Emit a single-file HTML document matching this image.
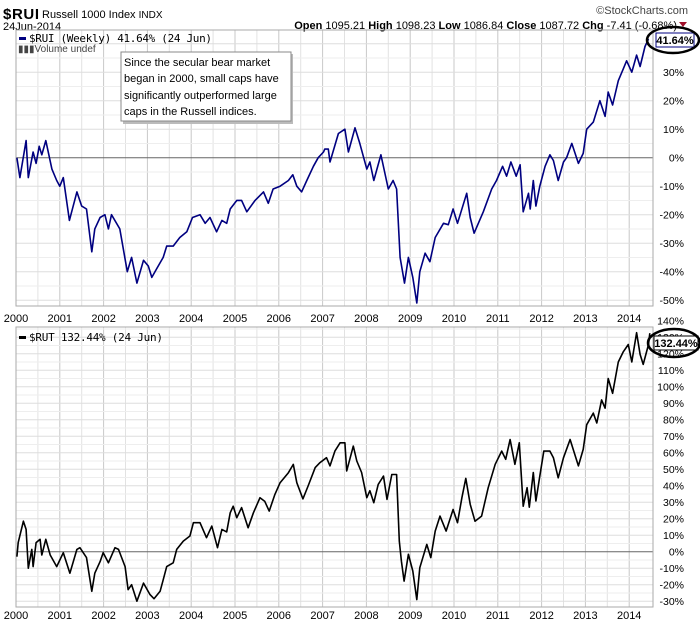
<!DOCTYPE html>
<html><head><meta charset="utf-8"><style>
html,body{margin:0;padding:0;background:#fff;}
svg{display:block;font-family:"Liberation Sans",sans-serif;}
</style></head><body>
<svg id="chart" width="700" height="624" xmlns="http://www.w3.org/2000/svg">
<g>
<text x="3" y="19" font-size="15" font-weight="bold" textLength="36">$RUI</text>
<text x="42" y="18" font-size="11">Russell 1000 Index <tspan font-size="10">INDX</tspan></text>
<text x="3" y="30" font-size="11">24Jun-2014</text>
<text x="688" y="14" font-size="11" fill="#444" text-anchor="end">©StockCharts.com</text>
<text x="677" y="29" font-size="11" text-anchor="end"><tspan font-weight="bold">Open</tspan> 1095.21 <tspan font-weight="bold">High</tspan> 1098.23 <tspan font-weight="bold">Low</tspan> 1086.84 <tspan font-weight="bold">Close</tspan> 1087.72 <tspan font-weight="bold">Chg</tspan> -7.41 (-0.68%)</text>
<polygon points="679,22 687,22 683,27" fill="#a0102a"/>
</g>
<g id="grid"></g>
<g id="series"></g>
<g>
<rect x="123" y="54" width="170" height="70" fill="#bbb"/>
<rect x="121" y="52" width="170" height="69" fill="#fff" stroke="#888" stroke-width="1"/>
<text font-size="11" fill="#000">
<tspan x="124" y="66">Since the secular bear market</tspan>
<tspan x="124" y="82">began in 2000, small caps have</tspan>
<tspan x="124" y="99">significantly outperformed large</tspan>
<tspan x="124" y="115">caps in the Russell indices.</tspan></text>
</g>
<g>
<rect x="19" y="37" width="7" height="3" fill="#000080"/>
<text x="29" y="42" font-size="11" font-family="DejaVu Sans Mono, monospace" textLength="183">$RUI (Weekly) 41.64% (24 Jun)</text>
<text x="18" y="52" font-size="10" fill="#444">▮▮▮Volume undef</text>
<rect x="19" y="336" width="7" height="3" fill="#000"/>
<text x="29" y="341" font-size="11" font-family="DejaVu Sans Mono, monospace" textLength="134">$RUT 132.44% (24 Jun)</text>
</g>
<g>
<rect x="656" y="33" width="38" height="14" fill="#fff" stroke="#000080"/>
<text x="675" y="44" font-size="11" font-weight="bold" text-anchor="middle">41.64%</text>
<ellipse cx="673" cy="40" rx="26" ry="13" fill="none" stroke="#000" stroke-width="2.5"/>
<rect x="654" y="336" width="44" height="14" fill="#fff" stroke="#000"/>
<text x="676" y="347" font-size="11" font-weight="bold" text-anchor="middle">132.44%</text>
<ellipse cx="674" cy="343" rx="26" ry="14" fill="none" stroke="#000" stroke-width="2.5"/>
</g>
</svg>
<script>
const ruiDates=[0.02,0.09,0.23,0.28,0.39,0.46,0.53,0.59,0.68,0.82,0.93,1.00,1.08,1.22,1.39,1.50,1.61,1.73,1.80,1.92,2.03,2.11,2.18,2.37,2.54,2.64,2.76,2.91,3.02,3.10,3.21,3.36,3.44,3.59,3.74,3.90,4.03,4.20,4.32,4.43,4.58,4.70,4.81,4.89,5.04,5.15,5.27,5.46,5.65,5.76,5.87,6.03,6.22,6.32,6.41,6.52,6.64,6.79,6.90,7.02,7.05,7.13,7.17,7.36,7.51,7.59,7.74,7.85,8.01,8.08,8.17,8.33,8.50,8.61,8.69,8.77,8.87,8.96,9.06,9.15,9.22,9.34,9.45,9.57,9.76,9.87,9.98,10.08,10.29,10.37,10.46,10.67,10.86,10.97,11.11,11.20,11.30,11.42,11.51,11.58,11.70,11.74,11.81,11.87,11.96,12.08,12.19,12.27,12.38,12.50,12.57,12.69,12.84,12.95,13.03,13.18,13.33,13.45,13.52,13.62,13.75,13.86,13.94,14.06,14.17,14.25,14.36,14.44];
const ruiValues=[0,-7,6,-7,2,-2,4,1,6,-4,-8,-10,-7,-22,-12,-17,-18,-33,-25,-21,-20,-25,-20,-25,-40,-35,-44,-36,-38,-42,-39,-35,-31,-31,-28,-26,-21,-20,-23,-21,-26,-22,-23,-18,-15,-15,-19,-15,-12,-16,-11,-10,-8,-6,-10,-12,-8,-3,0,2,3,3,-1.5,8.5,10,2,10.5,5,-4,-1.5,-8,1,-11,-8,-11,-35,-44,-35,-42,-51,-40,-33.5,-36.5,-28,-23,-23.5,-18,-23,-12.5,-21,-26.5,-19,-11,-8,-3,-6.5,-1.5,-6.5,-2.5,-19,-12.5,-18,-8,-17,-10,-3,1,-1,-8,-1.5,0,5,-2,1.5,10,12.5,20,14.5,23,18.5,27,31,34,30,36,32,39,41.64];
const rutDates=[0.02,0.05,0.17,0.23,0.28,0.36,0.39,0.46,0.55,0.59,0.68,0.78,0.93,1.08,1.23,1.39,1.46,1.61,1.73,1.80,1.92,1.99,2.11,2.26,2.34,2.49,2.56,2.64,2.76,2.91,3.06,3.15,3.29,3.36,3.44,3.59,3.67,3.82,3.97,4.05,4.20,4.35,4.47,4.60,4.70,4.81,4.89,4.96,5.04,5.15,5.30,5.42,5.57,5.68,5.78,5.91,6.03,6.22,6.33,6.41,6.55,6.67,6.83,6.94,7.09,7.17,7.28,7.40,7.51,7.55,7.70,7.78,7.89,8.01,8.08,8.17,8.27,8.39,8.47,8.58,8.69,8.75,8.80,8.86,8.96,9.06,9.15,9.22,9.38,9.47,9.57,9.68,9.82,9.98,10.08,10.18,10.27,10.37,10.48,10.63,10.78,10.94,11.09,11.18,11.28,11.39,11.49,11.58,11.67,11.72,11.81,11.87,11.96,12.05,12.19,12.27,12.38,12.50,12.65,12.84,12.95,13.03,13.18,13.26,13.37,13.45,13.52,13.62,13.75,13.86,13.98,14.06,14.17,14.25,14.32,14.44,14.47];
const rutValues=[-3,5.5,18.5,13.5,-10,1.4,-9,5.5,7.5,-2,7.5,-2,-9,-0.6,-13,1.4,2.4,-3.6,-24,-13,-6,-0.6,-6.7,2.4,1.4,-9,-23,-20,-30,-19,-26,-28.5,-24,-17,-9,-6.7,1.4,6.4,9.5,17.6,17.6,8.5,15.5,2.4,13.5,12,23.6,27.6,20.6,26.7,14.5,23.6,32.7,30.5,24.6,34.7,41.8,47.9,52.9,41.8,32,39.8,51,54,57,52,61,66,66,49,64,55,48,32.7,37,29.7,40.8,45.8,31.7,46.8,46.8,6.4,-5.7,-17.8,-1.6,-11.7,-29,-9.7,4.4,-3.6,12.5,21.6,12.5,25.6,17.6,32.7,44.4,28.7,18.5,21.6,38.8,53,61,56,68,53,66,27.6,38.8,27,48,30.7,45.8,61,61,57,44.8,57,68,52,62,77,84,78,92,87,105,96,115,121,125.6,115,132.7,119.6,113.5,125.6,132.44];
const yearLabels=["2000","2001","2002","2003","2004","2005","2006","2007","2008","2009","2010","2011","2012","2013","2014"];
const ruiTicks=[30,20,10,0,-10,-20,-30,-40,-50];
const rutTicks=[140,130,120,110,100,90,80,70,60,50,40,30,20,10,0,-10,-20,-30];

const NS="http://www.w3.org/2000/svg";
const L=16,R=653;
const xS=t=>L+t*43.8;
const panels=[
 {top:30,bot:306,y:v=>157.7-v*2.85,gmin:-50,gmax:40,ticks:ruiTicks,dates:ruiDates,vals:ruiValues,color:"#000080",name:"rui",lab:318},
 {top:327,bot:607,y:v=>551.7-v*1.65,gmin:-30,gmax:130,ticks:rutTicks,dates:rutDates,vals:rutValues,color:"#000",name:"rut",lab:615}
];
const grid=document.getElementById('grid'),ser=document.getElementById('series');
function mk(tag,attrs,parent){const e=document.createElementNS(NS,tag);for(const k in attrs)e.setAttribute(k,attrs[k]);parent.appendChild(e);return e;}
panels.forEach(p=>{
  for(let h=0;h<29;h++){const x=xS(h/2);if(x>R)break;
    const ln=mk('line',{x1:x,x2:x,y1:p.top,y2:p.bot,stroke:h%2?'#e2e2e2':'#c8c8c8','stroke-width':1},grid);
    
    }
  for(let v=p.gmin-5;v<=p.gmax+10;v+=5){const y=p.y(v);if(y<p.top||y>p.bot)continue;
    const ln=mk('line',{x1:L,x2:R,y1:y,y2:y,stroke:v===0?'#666':(v%10?'#eee':'#ddd'),'stroke-width':1},grid);
    
    }
  const fr=mk('rect',{x:L,y:p.top,width:R-L,height:p.bot-p.top,fill:'none',stroke:'#aaa'},grid);
  
  
  p.ticks.forEach(v=>{const y=p.y(v);
    const t=mk('text',{x:684,y:y+4,'font-size':10.5,'text-anchor':'end'},grid);t.textContent=v+'%';
    
    });
  yearLabels.forEach((s,i)=>{
    const t=mk('text',{x:xS(i),y:p.lab+4,'font-size':11,'text-anchor':'middle'},grid);t.textContent=s;
    
    });
  const pts=p.dates.map((d,i)=>xS(d).toFixed(1)+','+p.y(p.vals[i]).toFixed(1)).join(' ');
  const pl=mk('polyline',{points:pts,fill:'none',stroke:p.color,'stroke-width':1.6,'stroke-linejoin':'round'},ser);
  
  
});
</script>
</body></html>
